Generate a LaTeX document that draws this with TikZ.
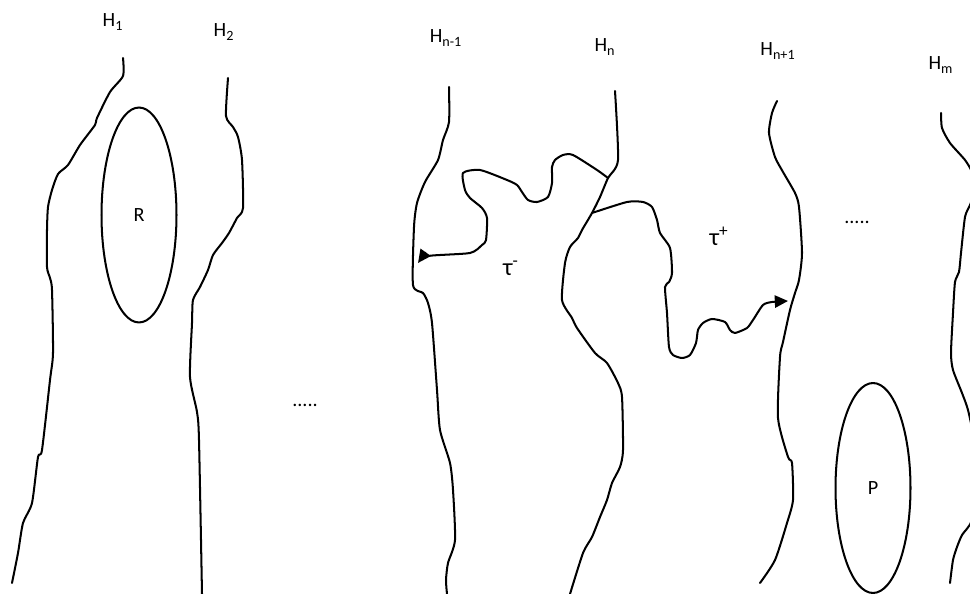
\documentclass[tikz,border=0pt]{standalone}
\usepackage{fontspec}
\setmainfont{Carlito}
\usetikzlibrary{arrows.meta}
\usetikzlibrary{shapes.geometric}

\tikzset{
	wall/.style={line width=1.15pt, line join=round, line cap=round},
	walk/.style={wall, -{Triangle[length=7.5pt,width=7pt]}},
	region/.style={draw, line width=1.15pt, ellipse, inner sep=0pt,
		minimum width=1.5cm, minimum height=4.3cm, font=\fontsize{11.5}{13}\selectfont},
	hlabel/.style={inner sep=0pt, font=\fontsize{11.5}{13}\selectfont},
	tlabel/.style={inner sep=0pt, font=\fontsize{14}{16}\selectfont},
}

\begin{document}
\begin{tikzpicture}[x=0.02cm, y=-0.02cm]
	\useasboundingbox (0,0) rectangle (970,594);
	\clip (0,0) rectangle (970,594);
	
	\node[hlabel] (h1) at (113,22) {H\textsubscript{1}};
	\node[hlabel] (h2) at (224,32) {H\textsubscript{2}};
	\node[hlabel] (hnm) at (446,38) {H\textsubscript{n-1}};
	\node[hlabel] (hn) at (605,47) {H\textsubscript{n}};
	\node[hlabel] (hnp) at (778,51) {H\textsubscript{n+1}};
	\node[hlabel] (hm) at (941,65) {H\textsubscript{m}};
	
	\node[region] (R) at (139,215) {R};
	\node[region, minimum height=4.2cm] (P) at (873,488) {P};
	
	\node[hlabel] (dotsA) at (305,405) {.....};
	\node[hlabel] (dotsB) at (857,222) {.....};
	
	\node[tlabel] (tm) at (511,268) {τ\textsuperscript{-}};
	\node[tlabel] (tp) at (719,236) {τ\textsuperscript{+}};
	
	\coordinate (J1) at (608,178);
	\coordinate (J2) at (592,213);
	\coordinate (tmEnd) at (418,263);
	\coordinate (tpEnd) at (788,301);
	
	\draw[wall] plot[smooth, tension=0.4] coordinates {(123,58) (123,76) (110,92) (97,118) (95,125) (80,145) (68,165) (58,174) (52,190) (48,207) (47,230) (47,267) (50,278) (52,290) (53,353) (50,380) (42,450) (38,457) (32,503) (23,523) (18,553) (12,583)};
	\draw[wall] plot[smooth, tension=0.4] coordinates {(228,78) (226,116) (233,127) (238,137) (242,160) (243,208) (237,218) (229,233) (222,243) (213,255) (208,270) (200,287) (193,300) (192,323) (190,377) (197,412) (199,440) (202,594)};
	\draw[wall] plot[smooth, tension=0.4] coordinates {(449,87) (449,122) (443,140) (438,160) (425,182) (417,203) (414,227) (413,285) (423,293) (428,303) (432,323) (437,390) (440,430) (450,463) (453,490) (455,540) (448,563) (446,580) (447,594)};
	\draw[wall] plot[smooth, tension=0.4] coordinates {(615,91) (618,160) (J1) (600,197) (J2) (582,230) (578,238) (570,247) (565,263) (562,300) (572,318) (577,328) (595,353) (607,363) (618,383) (622,397) (623,450) (620,467) (612,483) (607,500) (600,517) (592,537) (583,553) (570,594)};
	\draw[wall] plot[smooth, tension=0.4] coordinates {(777,101) (772,113) (769,133) (775,157) (783,172) (795,193) (799,207) (802,253) (799,280) (795,293) (790,310) (783,342) (780,357) (778,418) (788,457) (792,463) (793,500) (787,523) (775,560) (760,583)};
	\draw[wall] plot[smooth, tension=0.4] coordinates {(941,113) (942,128) (950,143) (965,160) (972,172) (976,188) (970,205) (965,217) (961,253) (959,272) (955,282) (953,313) (951,353) (953,370) (962,393) (968,410) (974,440) (976,480) (972,520) (962,535) (957,547) (953,560) (950,583)};
	
	\draw[walk] plot[smooth, tension=0.4] coordinates {(J1) (597,170) (573,155) (563,155) (555,160) (552,167) (552,183) (548,197) (537,202) (528,200) (522,192) (517,185) (507,180) (480,170) (463,173) (465,190) (470,198) (482,208) (487,218) (486,240) (482,245) (470,253) (428,256) (tmEnd)};
	\draw[walk] plot[smooth, tension=0.4] coordinates {(J2) (627,202) (643,202) (652,207) (657,220) (660,233) (670,248) (672,273) (669,282) (665,287) (667,313) (669,347) (673,355) (682,358) (690,355) (696,343) (698,330) (703,323) (712,319) (725,322) (730,330) (735,333) (747,328) (753,320) (763,305) (772,302) (tpEnd)};
\end{tikzpicture}
\end{document}
